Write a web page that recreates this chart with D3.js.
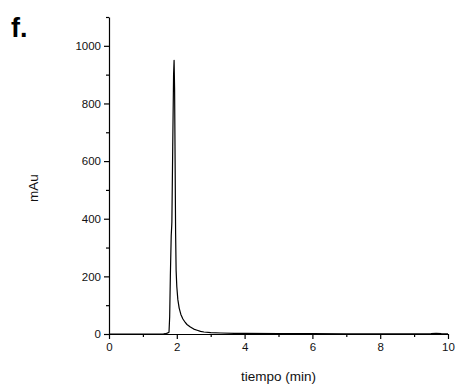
<!DOCTYPE html>
<html>
<head>
<meta charset="utf-8">
<script src="https://cdn.jsdelivr.net/npm/d3@7"></script>
<style>
  body { margin: 0; background: #fff; }
  svg { display: block; font-family: "Liberation Sans", Arial, sans-serif; }
</style>
</head>
<body>
<svg id="chart" width="457" height="384"></svg>
<script>
// chromatogram trace
const tiempo = [0, 1.0, 1.6, 1.65, 1.72, 1.77, 1.79, 1.81, 1.835, 1.85, 1.855, 1.88, 1.905, 1.92,
    1.935, 1.95, 1.965, 1.98, 2.0, 2.03, 2.07, 2.12, 2.18, 2.25, 2.3, 2.4, 2.5, 2.6, 2.7, 2.8,
    3.0, 3.3, 3.7, 4.0, 5.0, 6.0, 7.0, 8.0, 9.0, 9.5, 9.65, 9.8, 10];
const mAu = [0, 0, 0, 1, 3, 6, 60, 200, 340, 375, 390, 650, 900, 950,
    850, 600, 350, 220, 165, 120, 90, 68, 52, 40, 33, 24, 17, 13, 9, 7,
    5, 3.5, 2.5, 2, 1.5, 1, 0.8, 0.5, 0.4, 1, 2.5, 1, 0.5];

const xMajor = [0, 2, 4, 6, 8, 10];
const xMinor = [1, 3, 5, 7, 9];
const yMajor = [0, 200, 400, 600, 800, 1000];
const yMinor = [100, 300, 500, 700, 900, 1100];

const svg = d3.select("#chart");
const mLeft = 109, mRight = 448, mTop = 17, mBottom = 334;

const x = d3.scaleLinear().domain([0, 10]).range([mLeft, mRight]);
const y = d3.scaleLinear().domain([0, 1100]).range([mBottom, mTop]);

// minor ticks first, then the major axes on top
svg.append("g")
    .attr("transform", `translate(0,${mBottom})`)
    .call(d3.axisBottom(x).tickValues(xMinor).tickSize(3).tickFormat("").tickSizeOuter(0))
    .call(g => g.select(".domain").remove());
svg.append("g")
    .attr("transform", `translate(${mLeft},0)`)
    .call(d3.axisLeft(y).tickValues(yMinor).tickSize(3).tickFormat("").tickSizeOuter(0))
    .call(g => g.select(".domain").remove());

svg.append("g")
    .attr("transform", `translate(0,${mBottom})`)
    .call(d3.axisBottom(x).tickValues(xMajor).tickFormat(d3.format("d"))
        .tickSize(5).tickSizeOuter(0).tickPadding(4));
svg.append("g")
    .attr("transform", `translate(${mLeft},0)`)
    .call(d3.axisLeft(y).tickValues(yMajor).tickFormat(d3.format("d"))
        .tickSize(5).tickSizeOuter(0).tickPadding(3));

svg.selectAll(".tick line, .domain").attr("stroke", "#000").attr("stroke-width", 1.2);
svg.selectAll(".tick text")
    .attr("fill", "#111")
    .style("font-family", "'Liberation Sans', Arial, sans-serif")
    .style("font-size", "11.5px");

// trace
const line = d3.line()
    .x((d, i) => x(tiempo[i]))
    .y(d => y(d));

svg.append("path")
    .datum(mAu)
    .attr("d", line)
    .attr("fill", "none")
    .attr("stroke", "#000")
    .attr("stroke-width", 1.2)
    .attr("stroke-linejoin", "round");

// axis titles
svg.append("text")
    .attr("x", (mLeft + mRight) / 2)
    .attr("y", 381)
    .attr("text-anchor", "middle")
    .style("font-size", "13.5px")
    .attr("fill", "#111")
    .text("tiempo (min)");

svg.append("text")
    .attr("transform", "translate(38,188) rotate(-90)")
    .attr("text-anchor", "middle")
    .style("font-size", "13.5px")
    .attr("fill", "#111")
    .text("mAu");

// panel letter
svg.append("text")
    .attr("x", 11)
    .attr("y", 37)
    .style("font-size", "27px")
    .style("font-weight", "bold")
    .attr("fill", "#000")
    .text("f.");
</script>
</body>
</html>
